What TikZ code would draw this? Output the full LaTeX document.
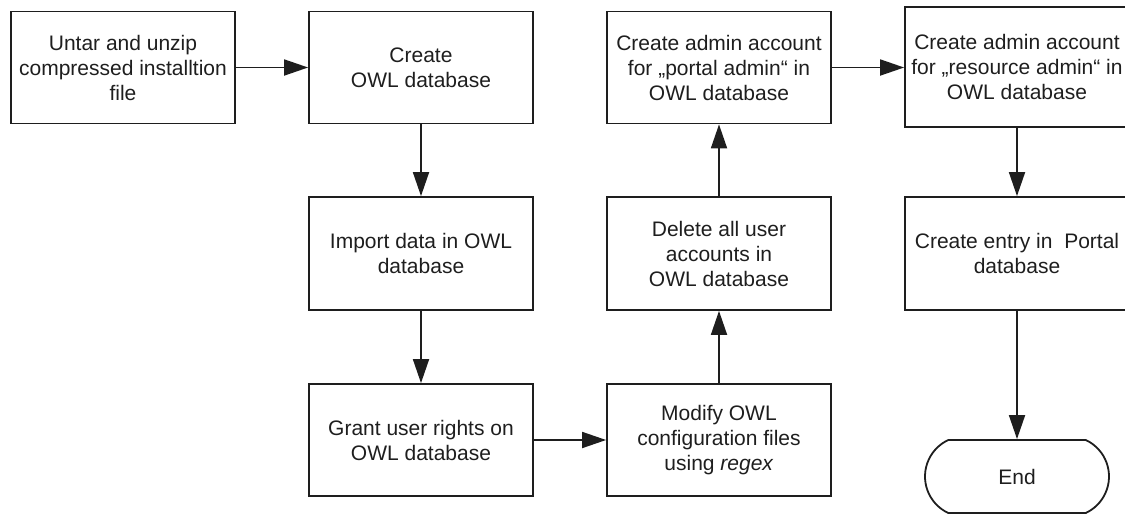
\documentclass[tikz,border=0pt]{standalone}
\usepackage{fontspec}
\setmainfont{Liberation Sans}
\usetikzlibrary{arrows.meta,shapes.misc}

\definecolor{ink}{HTML}{1E1E1E}

\tikzset{
  stepbox/.style={draw=ink, text=ink, line width=1.8pt, rectangle, minimum width=224pt,
    minimum height=112pt, align=center, inner sep=2pt,
    font=\fontsize{21}{25}\selectfont},
  endbox/.style={draw=ink, text=ink, line width=1.8pt, rounded rectangle,
    rounded rectangle arc length=130, minimum width=188pt,
    minimum height=73pt, inner sep=2pt, font=\fontsize{21}{25}\selectfont},
  flow/.style={draw=ink, line width=1.8pt, -{Triangle[length=24pt,width=16pt]}}
}

\begin{document}
\begin{tikzpicture}[x=1pt,y=-1pt]
  \useasboundingbox (0,0) rectangle (1125,514);
  \clip (0,0) rectangle (1125,514);

  % first column
  \node[stepbox] (untar) at (123,67.5)
    {Untar and unzip\\compressed installtion\\file};

  % second column
  \node[stepbox] (create) at (421,67.5) {Create\\OWL database};
  \node[stepbox, minimum height=113pt] (import) at (421,253.5)
    {Import data in OWL\\database};
  \node[stepbox] (grant) at (421,440) {Grant user rights on\\OWL database};

  % third column
  \node[stepbox] (modify) at (719,440)
    {Modify OWL\\configuration files\\using \textit{regex}};
  \node[stepbox, minimum height=113pt] (delete) at (719,253.5)
    {Delete all user\\accounts in\\OWL database};
  \node[stepbox] (portal) at (719,67.5)
    {Create admin account\\for „portal admin“ in\\OWL database};

  % fourth column
  \node[stepbox, minimum height=120pt] (resource) at (1017,67)
    {Create admin account\\for „resource admin“ in\\OWL database};
  \node[stepbox, minimum height=113pt] (entry) at (1017,253.5)
    {Create entry in\ \ Portal\\database};
  \node[endbox] (end) at (1017,476.5) {End};

  % connectors
  \draw[flow] (untar) -- (create);
  \draw[flow] (create) -- (import);
  \draw[flow] (import) -- (grant);
  \draw[flow] (grant) -- (modify);
  \draw[flow] (modify) -- (delete);
  \draw[flow] (delete) -- (portal);
  \draw[flow] (portal.east) -- (portal.east -| resource.west);
  \draw[flow] (resource) -- (entry);
  \draw[flow] (entry) -- (end);
\end{tikzpicture}
\end{document}
